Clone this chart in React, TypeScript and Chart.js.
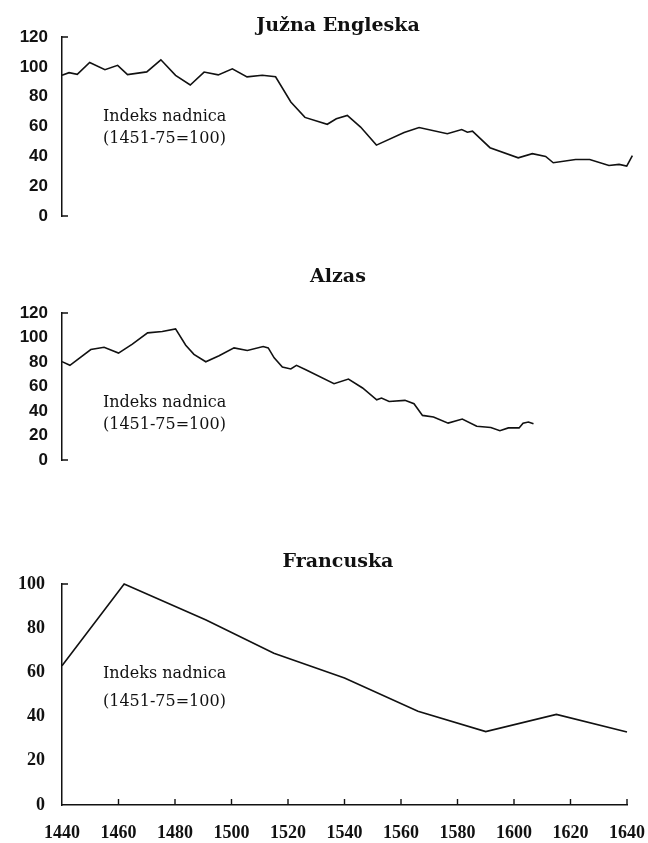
import React, { useEffect, useRef } from "react";
import { Chart, registerables } from "chart.js";

Chart.register(...registerables);

// ---------- data ----------
const englandYears = [
  1440, 1442.5, 1445.4, 1449.8, 1455.2, 1459.7, 1463.2, 1470, 1475, 1480.2,
  1485.4, 1490.3, 1495.3, 1500.3, 1505.5, 1510.9, 1515.6, 1521, 1526, 1533.9,
  1537.1, 1541, 1545.7, 1551.3, 1561.1, 1566.4, 1576.4, 1581.5, 1583.5, 1585.3,
  1591.5, 1601.5, 1606.5, 1611.2, 1613.9, 1621.8, 1626.8, 1633.6, 1637.2, 1639.9,
  1641.9,
];
const englandWages = [
  94.3, 96.1, 95, 102.9, 98.1, 101, 94.8, 96.6, 104.7, 94.3,
  87.8, 96.5, 94.6, 98.7, 93.3, 94.4, 93.3, 76.4, 66.1, 61.5,
  65.2, 67.4, 59.6, 47.5, 55.9, 59.3, 55.2, 58, 56.2, 56.9,
  45.8, 39, 41.8, 39.9, 35.7, 37.9, 37.9, 33.9, 34.6, 33.5,
  40.5,
];

const alsaceYears = [
  1440, 1442.8, 1450.2, 1454.9, 1460, 1464.9, 1470.3, 1475.5, 1480.2, 1483.8,
  1486.7, 1490.9, 1495.6, 1500.9, 1505.6, 1511.2, 1513, 1515.1, 1518, 1521,
  1523, 1526.3, 1536.3, 1541.4, 1546.4, 1551.4, 1553.1, 1555.8, 1561.4, 1564.6,
  1567.6, 1571.5, 1576.7, 1581.7, 1586.8, 1591.8, 1595, 1598, 1601.8, 1603.2,
  1605.1, 1606.9,
];
const alsaceWages = [
  80.3, 77.3, 90.2, 92, 87.3, 94.6, 103.8, 104.9, 107, 93.7,
  86.2, 80.2, 85.1, 91.5, 89.4, 92.6, 91.5, 83.4, 75.8, 74.3,
  77.3, 73.7, 62.3, 66.1, 58.8, 49.1, 50.6, 47.8, 48.7, 45.9,
  36.4, 35.1, 30.1, 33.4, 27.5, 26.5, 23.9, 26.2, 26.2, 30.1,
  31, 29.5,
];

const franceYears = [1440, 1462, 1491, 1515, 1540, 1566, 1590, 1615, 1640];
const franceWages = [63, 100, 83.7, 68.7, 57.5, 42.4, 33.2, 41, 33];

const xTickValues = [1440, 1460, 1480, 1500, 1520, 1540, 1560, 1580, 1600, 1620, 1640];
const yTicks120 = [0, 20, 40, 60, 80, 100, 120];
const yTicks100 = [0, 20, 40, 60, 80, 100];

const titles = ["Južna Engleska", "Alzas", "Francuska"];
const noteLines = ["Indeks nadnica", "(1451-75=100)"];

// ---------- layout (absolute page pixels) ----------
const PAGE_W = 648;
const PAGE_H = 843;
const PLOT_LEFT = 62;
const PLOT_RIGHT = 627;
const TITLE_X = 338;
const INK = "#111";

type PanelSpec = {
  years: number[];
  values: number[];
  yTicks: number[];
  title: string;
  canvasTop: number;
  canvasHeight: number;
  areaTop: number;
  areaBottom: number;
  titleBaseline: number;
  noteYear: number;
  noteValues: [number, number];
  showX: boolean;
  yFont: { family: string; size: number; weight: string };
  yPad: number;
};

const sansTick = { family: "'Liberation Sans', Arial, sans-serif", size: 17, weight: "bold" };
const serifTick = { family: "'Liberation Serif', 'Times New Roman', serif", size: 18, weight: "bold" };

const panels: PanelSpec[] = [
  {
    years: englandYears, values: englandWages, yTicks: yTicks120, title: titles[0],
    canvasTop: 0, canvasHeight: 262, areaTop: 37, areaBottom: 254, titleBaseline: 31,
    noteYear: 1454.5, noteValues: [66.8, 51.9], showX: false, yFont: sansTick, yPad: 14,
  },
  {
    years: alsaceYears, values: alsaceWages, yTicks: yTicks120, title: titles[1],
    canvasTop: 262, canvasHeight: 258, areaTop: 313, areaBottom: 498, titleBaseline: 282,
    noteYear: 1454.5, noteValues: [46.7, 28.6], showX: false, yFont: sansTick, yPad: 14,
  },
  {
    years: franceYears, values: franceWages, yTicks: yTicks100, title: titles[2],
    canvasTop: 520, canvasHeight: 323, areaTop: 584, areaBottom: 805, titleBaseline: 567,
    noteYear: 1454.5, noteValues: [59.2, 46.9], showX: true, yFont: serifTick, yPad: 17,
  },
];

const X_AXIS_H = 38;

const decorPlugin = {
  id: "decor",
  afterDraw(chart: any, _args: any, opts: any) {
    const ctx = chart.ctx;
    const xs = chart.scales.x;
    const ys = chart.scales.y;
    const spec: PanelSpec = opts.spec;
    ctx.save();
    // title
    ctx.fillStyle = INK;
    ctx.font = "bold 19px 'DejaVu Serif', serif";
    ctx.textAlign = "center";
    ctx.textBaseline = "alphabetic";
    ctx.fillText(spec.title, TITLE_X, spec.titleBaseline - spec.canvasTop);
    // note
    ctx.font = "16px 'DejaVu Serif', serif";
    ctx.textAlign = "left";
    ctx.textBaseline = "middle";
    const nx = xs.getPixelForValue(spec.noteYear);
    ctx.fillText(noteLines[0], nx, ys.getPixelForValue(spec.noteValues[0]));
    ctx.fillText(noteLines[1], nx, ys.getPixelForValue(spec.noteValues[1]));
    // tick marks
    ctx.strokeStyle = INK;
    ctx.lineWidth = 1.4;
    const left = chart.chartArea.left;
    const yMax = spec.yTicks[spec.yTicks.length - 1];
    const yTop = ys.getPixelForValue(yMax);
    ctx.beginPath();
    ctx.moveTo(left, yTop);
    ctx.lineTo(left + 6, yTop);
    if (!spec.showX) {
      const y0 = ys.getPixelForValue(0);
      ctx.moveTo(left, y0);
      ctx.lineTo(left + 6, y0);
    } else {
      const bottom = chart.chartArea.bottom;
      xTickValues.slice(1).forEach((v) => {
        const px = xs.getPixelForValue(v);
        ctx.moveTo(px, bottom);
        ctx.lineTo(px, bottom - 6);
      });
    }
    ctx.stroke();
    ctx.restore();
  },
};

function Panel({ spec }: { spec: PanelSpec }) {
  const ref = useRef<HTMLCanvasElement | null>(null);
  useEffect(() => {
    if (!ref.current) return;
    const data = spec.years.map((y, i) => ({ x: y, y: spec.values[i] }));
    const yMax = spec.yTicks[spec.yTicks.length - 1];
    const padBottom = spec.showX
      ? spec.canvasTop + spec.canvasHeight - spec.areaBottom - X_AXIS_H
      : spec.canvasTop + spec.canvasHeight - spec.areaBottom;
    const chart = new Chart(ref.current, {
      type: "line",
      data: {
        datasets: [
          {
            data,
            borderColor: INK,
            borderWidth: 1.6,
            pointRadius: 0,
            tension: 0,
            fill: false,
            clip: false as any,
          },
        ],
      },
      plugins: [decorPlugin],
      options: {
        responsive: false,
        animation: false,
        devicePixelRatio: 1,
        layout: {
          padding: {
            left: 0,
            right: PAGE_W - PLOT_RIGHT,
            top: spec.areaTop - spec.canvasTop,
            bottom: padBottom,
          },
        },
        plugins: {
          legend: { display: false },
          tooltip: { enabled: false },
          title: { display: false },
          decor: { spec } as any,
        } as any,
        scales: {
          x: {
            type: "linear",
            min: 1440,
            max: 1640,
            display: spec.showX,
            afterBuildTicks: (s: any) => {
              s.ticks = xTickValues.map((v) => ({ value: v }));
            },
            afterFit: (s: any) => {
              s.height = X_AXIS_H;
              s.paddingLeft = 0;
              s.paddingRight = 0;
            },
            grid: { display: false, drawTicks: false },
            border: { display: true, color: INK, width: 1.5 },
            ticks: {
              color: INK,
              padding: 18,
              maxRotation: 0,
              autoSkip: false,
              font: { family: "'Liberation Serif', 'Times New Roman', serif", size: 18, weight: "bold" },
              callback: (v: any) => String(v),
            },
          },
          y: {
            type: "linear",
            min: 0,
            max: yMax,
            afterBuildTicks: (s: any) => {
              s.ticks = spec.yTicks.map((v) => ({ value: v }));
            },
            afterFit: (s: any) => {
              s.width = PLOT_LEFT;
              s.paddingTop = 0;
              s.paddingBottom = 0;
            },
            grid: { display: false, drawTicks: false },
            border: { display: true, color: INK, width: 1.5 },
            ticks: {
              color: INK,
              padding: spec.yPad,
              autoSkip: false,
              font: spec.yFont as any,
              callback: (v: any) => String(v),
            },
          },
        },
      },
    });
    return () => chart.destroy();
  }, [spec]);
  return (
    <canvas
      ref={ref}
      width={PAGE_W}
      height={spec.canvasHeight}
      style={{
        position: "absolute",
        left: 0,
        top: spec.canvasTop,
        width: PAGE_W,
        height: spec.canvasHeight,
        display: "block",
      }}
    />
  );
}

export default function App() {
  return (
    <div
      style={{
        position: "absolute",
        left: 0,
        top: 0,
        width: PAGE_W,
        height: PAGE_H,
        overflow: "hidden",
        background: "#fff",
      }}
    >
      {panels.map((p, i) => (
        <Panel key={i} spec={p} />
      ))}
    </div>
  );
}
